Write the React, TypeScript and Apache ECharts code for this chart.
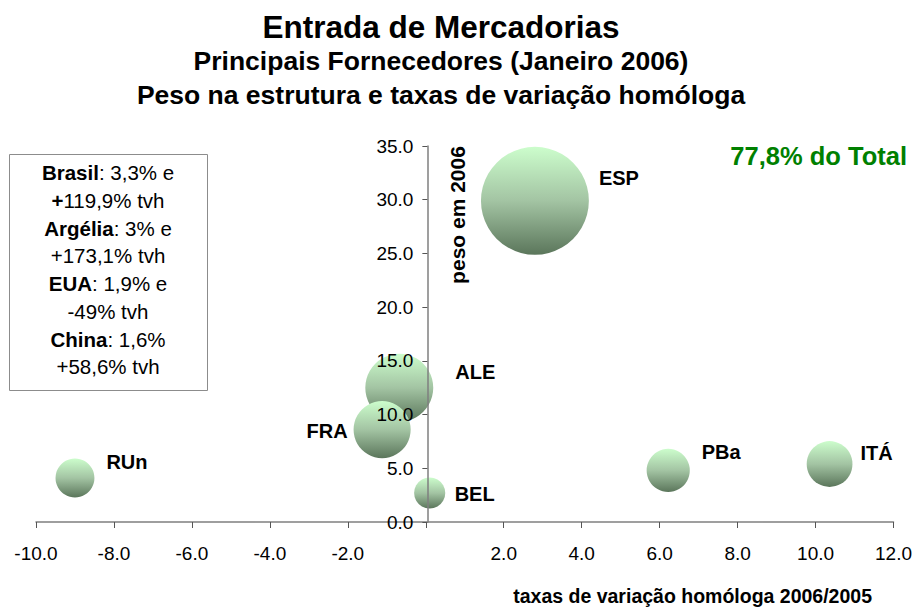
import React, { useEffect, useRef } from "react";
import * as echarts from "echarts";

const countries = ["RUn", "ALE", "FRA", "BEL", "ESP", "PBa", "ITÁ"];
const growthRates = [-9.0, -0.68, -1.12, 0.1, 2.8, 6.22, 10.36];
const weights = [4.1, 12.5, 8.6, 2.7, 29.9, 4.8, 5.4];
const bubbleWeights = [3.9, 11.9, 8.4, 2.5, 30.0, 4.8, 5.4];
const labelOffsets: [number, number][] = [
  [52, -16],
  [76, -16],
  [-55, 1],
  [45, 1],
  [84, -23],
  [53, -18],
  [47, -11],
];
const xTicks = { min: -10, max: 12, interval: 2 };
const yTicks = { min: 0, max: 35, interval: 5 };

const FONT = "'Liberation Sans', Arial, sans-serif";

const GRID = { left: 36, right: 18, top: 146, bottom: 90 };
const WIDTH = 915;
const HEIGHT = 612;

export default function App() {
  const ref = useRef<HTMLDivElement>(null);
  useEffect(() => {
    document.body.style.margin = "0";
    const chart = echarts.init(ref.current!, null, { renderer: "svg" });
    const gradient = new echarts.graphic.LinearGradient(0, 0, 0, 1, [
      { offset: 0, color: "#ccfdcc" },
      { offset: 0.5, color: "#a3c4a3" },
      { offset: 1, color: "#5b765b" },
    ]);
    const data = countries.map((name, i) => ({
      name,
      value: [growthRates[i], weights[i], bubbleWeights[i]],
      label: { offset: labelOffsets[i] },
    }));
    const plotW = WIDTH - GRID.left - GRID.right;
    const zeroShift = (plotW * (0 - xTicks.min)) / (xTicks.max - xTicks.min);
    chart.setOption({
      animation: false,
      backgroundColor: "#ffffff",
      grid: { ...GRID, containLabel: false },
      xAxis: {
        type: "value",
        min: xTicks.min,
        max: xTicks.max,
        interval: xTicks.interval,
        splitLine: { show: false },
        axisLine: { lineStyle: { color: "#7f7f7f", width: 1.5 } },
        axisTick: { show: true, length: 6, lineStyle: { color: "#555" } },
        axisLabel: {
          margin: 22,
          fontFamily: FONT,
          fontSize: 19,
          color: "#000",
          formatter: (v: number) => (v === 0 ? "" : v.toFixed(1)),
        },
      },
      yAxis: {
        type: "value",
        min: yTicks.min,
        max: yTicks.max,
        interval: yTicks.interval,
        position: "left",
        offset: -zeroShift,
        z: 5,
        splitLine: { show: false },
        axisLine: { onZero: false, lineStyle: { color: "#7f7f7f", width: 1.5 } },
        axisTick: { show: true, length: 5, lineStyle: { color: "#555" } },
        axisLabel: {
          margin: 14,
          fontFamily: FONT,
          fontSize: 19,
          color: "#000",
          formatter: (v: number) => v.toFixed(1),
        },
      },
      series: [
        {
          type: "scatter",
          data,
          symbolSize: (d: number[]) => 19.7 * Math.sqrt(d[2]),
          itemStyle: { color: gradient, opacity: 1 },
          label: {
            show: true,
            position: "inside",
            align: "center",
            verticalAlign: "middle",
            formatter: "{b}",
            fontFamily: FONT,
            fontWeight: "bold",
            fontSize: 20,
            color: "#000",
          },
          emphasis: { disabled: true },
        },
      ],
      graphic: [
        {
          type: "text",
          x: 441,
          y: 27,
          style: {
            text: "Entrada de Mercadorias",
            fontFamily: FONT,
            fontWeight: "bold",
            fontSize: 31.5,
            fill: "#000",
            align: "center",
            verticalAlign: "middle",
          },
        },
        {
          type: "text",
          x: 441,
          y: 61,
          style: {
            text: "Principais Fornecedores (Janeiro 2006)",
            fontFamily: FONT,
            fontWeight: "bold",
            fontSize: 26.5,
            fill: "#000",
            align: "center",
            verticalAlign: "middle",
          },
        },
        {
          type: "text",
          x: 441,
          y: 95,
          style: {
            text: "Peso na estrutura e taxas de variação homóloga",
            fontFamily: FONT,
            fontWeight: "bold",
            fontSize: 26.5,
            fill: "#000",
            align: "center",
            verticalAlign: "middle",
          },
        },
        {
          type: "rect",
          shape: { x: 9.5, y: 154.5, width: 198, height: 236 },
          style: { fill: "#fff", stroke: "#8c8c8c", lineWidth: 1 },
        },
        {
          type: "text",
          x: 108,
          y: 159,
          style: {
            text:
              "{b|Brasil}: 3,3% e\n{b|+}119,9% tvh\n{b|Argélia}: 3% e\n+173,1% tvh\n{b|EUA}: 1,9% e\n-49% tvh\n{b|China}: 1,6%\n+58,6% tvh",
            fontFamily: FONT,
            fontSize: 20.5,
            lineHeight: 27.7,
            fill: "#000",
            align: "center",
            verticalAlign: "top",
            rich: {
              b: { fontFamily: FONT, fontWeight: "bold", fontSize: 20.5, lineHeight: 27.7, fill: "#000" },
            },
          },
        },
        {
          type: "text",
          x: 907,
          y: 156,
          style: {
            text: "77,8% do Total",
            fontFamily: FONT,
            fontWeight: "bold",
            fontSize: 25.5,
            fill: "#008000",
            align: "right",
            verticalAlign: "middle",
          },
        },
        {
          type: "text",
          x: 457,
          y: 215,
          rotation: Math.PI / 2,
          style: {
            text: "peso em 2006",
            fontFamily: FONT,
            fontWeight: "bold",
            fontSize: 21,
            fill: "#000",
            align: "center",
            verticalAlign: "middle",
          },
        },
        {
          type: "text",
          x: 872,
          y: 596,
          style: {
            text: "taxas de variação homóloga 2006/2005",
            fontFamily: FONT,
            fontWeight: "bold",
            fontSize: 19.5,
            fill: "#000",
            align: "right",
            verticalAlign: "middle",
          },
        },
      ],
    });
    return () => chart.dispose();
  }, []);
  return <div ref={ref} style={{ width: WIDTH, height: HEIGHT }} />;
}
